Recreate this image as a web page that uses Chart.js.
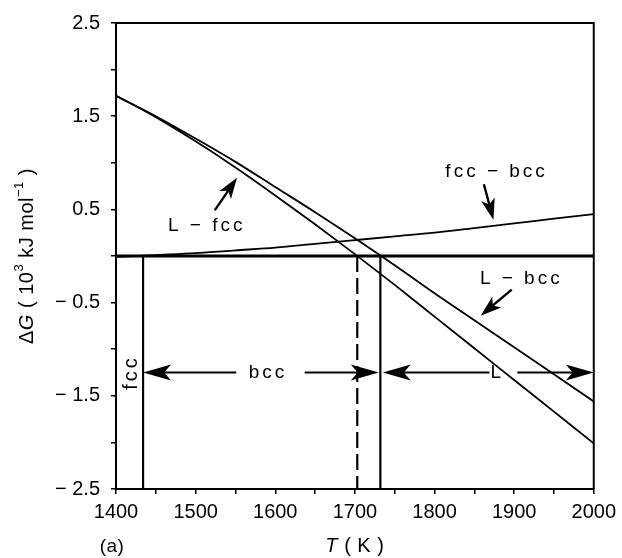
<!DOCTYPE html>
<html>
<head>
<meta charset="utf-8">
<script src="https://cdn.jsdelivr.net/npm/chart.js@4.4.1/dist/chart.umd.min.js"></script>
<style>
  html, body { margin: 0; padding: 0; background: #fff; }
  #wrap { width: 622px; height: 558px; }
</style>
</head>
<body>
<div id="wrap"><canvas id="chart" width="622" height="558"></canvas></div>
<script>
// temperature grid (K) and free-energy differences (10^3 kJ/mol)
const temps = [1400, 1450, 1500, 1550, 1600, 1650, 1700, 1750, 1800, 1850, 1900, 1950, 2000];
const dG_L_fcc = [1.72, 1.49, 1.23, 0.95, 0.65, 0.34, 0.02, -0.31, -0.65, -0.99, -1.33, -1.67, -2.01];
const dG_L_bcc = [1.72, 1.50, 1.26, 1.01, 0.74, 0.47, 0.19, -0.10, -0.40, -0.69, -0.98, -1.27, -1.56];
const dG_fcc_bcc = [-0.01, 0.01, 0.03, 0.06, 0.09, 0.13, 0.17, 0.21, 0.25, 0.30, 0.35, 0.40, 0.45];

// transition temperatures (K)
const T_fcc_bcc = 1434;
const T_fcc_melt = 1703;   // metastable, dashed
const T_bcc_melt = 1732;

// axis ranges / ticks
const xRange = [1400, 2000];
const yRange = [-2.5, 2.5];
const xTickStep = 50;
const yTickStep = 0.5;

// phase range arrows: [label, labelT, left tip, left end, right end, right tip]
const phaseArrowY = -1.25;
const phaseArrows = [
    ['bcc', 1591, 1434, 1551, 1637, 1730],
    ['L', 1879, 1735, 1869, 1904, 2000]
];
// curve labels with pointer arrows: [text, textT, textG, fromT, fromG, toT, toG]
const curveLabels = [
    ['L \u2212 fcc', 1514, 0.325, 1524, 0.49, 1552, 0.84],
    ['fcc \u2212 bcc', 1878, 0.90, 1862, 0.77, 1874, 0.39],
    ['L \u2212 bcc', 1909, -0.24, 1897, -0.36, 1858, -0.64]
];

function pts(ys) {
    return temps.map((t, i) => ({ x: t, y: ys[i] }));
}
function vline(t) {
    return [{ x: t, y: 0 }, { x: t, y: yRange[0] }];
}

const FONT = '"Liberation Sans", Arial, Helvetica, sans-serif';

const annotate = {
    id: 'annotate',
    afterDraw(chart) {
        const { ctx, chartArea: a, scales } = chart;
        const px = t => scales.x.getPixelForValue(t);
        const py = v => scales.y.getPixelForValue(v);
        ctx.save();
        ctx.strokeStyle = '#000';
        ctx.fillStyle = '#000';

        // top and right frame
        ctx.lineWidth = 2;
        ctx.beginPath();
        ctx.moveTo(a.left, a.top);
        ctx.lineTo(a.right, a.top);
        ctx.lineTo(a.right, a.bottom);
        ctx.stroke();

        function arrow(x0, y0, x1, y1, len, half, lw) {
            const ang = Math.atan2(y1 - y0, x1 - x0);
            const c = Math.cos(ang), s = Math.sin(ang);
            ctx.lineWidth = lw;
            ctx.beginPath();
            ctx.moveTo(x0, y0);
            ctx.lineTo(x1 - c * len * 0.7, y1 - s * len * 0.7);
            ctx.stroke();
            ctx.beginPath();
            ctx.moveTo(x1, y1);
            ctx.lineTo(x1 - c * len - s * half, y1 - s * len + c * half);
            ctx.lineTo(x1 - c * len * 0.75, y1 - s * len * 0.75);
            ctx.lineTo(x1 - c * len + s * half, y1 - s * len - c * half);
            ctx.closePath();
            ctx.fill();
        }

        ctx.font = '19px ' + FONT;
        ctx.textAlign = 'center';
        ctx.textBaseline = 'middle';
        try { ctx.letterSpacing = '3px'; } catch (e) {}

        // phase range arrows
        const ay = py(phaseArrowY);
        phaseArrows.forEach(p => {
            arrow(px(p[3]), ay, px(p[2]), ay, 28, 8, 2.2);
            arrow(px(p[4]), ay, px(p[5]), ay, 28, 8, 2.2);
            ctx.fillText(p[0], px(p[1]), ay);
        });

        // curve labels
        curveLabels.forEach(c => {
            ctx.fillText(c[0], px(c[1]), py(c[2]));
            arrow(px(c[3]), py(c[4]), px(c[5]), py(c[6]), 21, 7, 2.4);
        });

        // rotated "fcc" between axis and fcc/bcc boundary
        ctx.save();
        ctx.translate(px(1419), py(phaseArrowY));
        ctx.rotate(-Math.PI / 2);
        ctx.font = '20px ' + FONT;
        ctx.fillText('fcc', 0, 0);
        ctx.restore();

        try { ctx.letterSpacing = '0.5px'; } catch (e) {}

        // y axis title: ΔG ( 10^3 kJ mol^-1 )
        const parts = [
            ['\u0394', '20px ' + FONT, 0],
            ['G', 'italic 20px ' + FONT, 0],
            [' ( 10', '20px ' + FONT, 0],
            ['3', '13px ' + FONT, -8],
            [' kJ mol', '20px ' + FONT, 0],
            ['\u22121', '13px ' + FONT, -8],
            [' )', '20px ' + FONT, 0]
        ];
        let total = 0;
        parts.forEach(p => { ctx.font = p[1]; total += ctx.measureText(p[0]).width; });
        ctx.save();
        ctx.translate(27, (a.top + a.bottom) / 2);
        ctx.rotate(-Math.PI / 2);
        ctx.textAlign = 'left';
        let cx = -total / 2;
        parts.forEach(p => {
            ctx.font = p[1];
            ctx.fillText(p[0], cx, p[2]);
            cx += ctx.measureText(p[0]).width;
        });
        ctx.restore();

        // x axis title: T ( K )
        ctx.textAlign = 'left';
        const xt = [['T', 'italic 20px ' + FONT], [' ( K )', '20px ' + FONT]];
        let w = 0;
        xt.forEach(p => { ctx.font = p[1]; w += ctx.measureText(p[0]).width; });
        let tx = (a.left + a.right) / 2 - w / 2;
        xt.forEach(p => {
            ctx.font = p[1];
            ctx.fillText(p[0], tx, 546);
            tx += ctx.measureText(p[0]).width;
        });

        // panel label
        ctx.font = '19px ' + FONT;
        ctx.textAlign = 'center';
        ctx.fillText('(a)', 112, 547);
        ctx.restore();
    }
};

const lineStyle = { borderColor: '#000', pointRadius: 0, showLine: true, fill: false, tension: 0 };

new Chart(document.getElementById('chart').getContext('2d'), {
    type: 'scatter',
    data: {
        datasets: [
            Object.assign({ label: 'zero', data: [{ x: xRange[0], y: 0 }, { x: xRange[1], y: 0 }], borderWidth: 3 }, lineStyle),
            Object.assign({ label: 'L-fcc', data: pts(dG_L_fcc), borderWidth: 1.8 }, lineStyle, { cubicInterpolationMode: 'monotone' }),
            Object.assign({ label: 'L-bcc', data: pts(dG_L_bcc), borderWidth: 1.8 }, lineStyle, { cubicInterpolationMode: 'monotone' }),
            Object.assign({ label: 'fcc-bcc', data: pts(dG_fcc_bcc), borderWidth: 1.8 }, lineStyle, { cubicInterpolationMode: 'monotone' }),
            Object.assign({ label: 'fcc/bcc', data: vline(T_fcc_bcc), borderWidth: 2.2 }, lineStyle),
            Object.assign({ label: 'fcc melt', data: vline(T_fcc_melt), borderWidth: 2.2, borderDash: [16, 6] }, lineStyle),
            Object.assign({ label: 'bcc melt', data: vline(T_bcc_melt), borderWidth: 2.2 }, lineStyle)
        ]
    },
    options: {
        responsive: false,
        animation: false,
        layout: { padding: { left: 0, top: 20, right: 28, bottom: 0 } },
        plugins: { legend: { display: false }, tooltip: { enabled: false } },
        scales: {
            x: {
                type: 'linear',
                min: xRange[0],
                max: xRange[1],
                afterFit: s => { s.height = 69; },
                border: { color: '#000', width: 2 },
                grid: { drawOnChartArea: false, drawTicks: true, tickLength: 5, color: '#000', lineWidth: 1.5 },
                ticks: {
                    stepSize: xTickStep,
                    autoSkip: false,
                    maxRotation: 0,
                    padding: 6,
                    color: '#000',
                    font: { family: FONT, size: 20 },
                    callback: v => (v % 100 === 0 ? String(v) : '')
                }
            },
            y: {
                min: yRange[0],
                max: yRange[1],
                afterFit: s => { s.width = 116; },
                border: { color: '#000', width: 2 },
                grid: { drawOnChartArea: false, drawTicks: true, tickLength: 5, color: '#000', lineWidth: 1.5 },
                ticks: {
                    stepSize: yTickStep,
                    autoSkip: false,
                    padding: 11,
                    color: '#000',
                    font: { family: FONT, size: 20 },
                    callback: v => {
                        if (Math.abs(Math.round(v * 2)) % 2 !== 1) return '';
                        return v < 0 ? '\u2212 ' + Math.abs(v).toFixed(1) : v.toFixed(1);
                    }
                }
            }
        }
    },
    plugins: [annotate]
});
</script>
</body>
</html>
